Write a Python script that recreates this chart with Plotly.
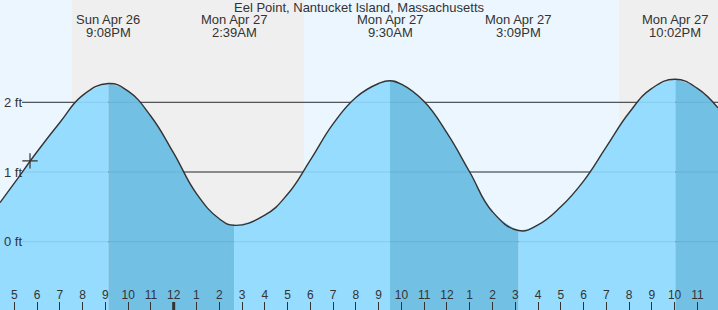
import plotly.graph_objects as go

# ---- data (hours since 00:00 Sun Apr 26) ----
x_start, x_end = 16.372, 47.905
curve_hours = [16.372, 17, 18, 19, 20, 21.133, 22, 23, 24, 25, 26, 26.65, 28, 29, 30,
               31, 32, 33, 33.5, 34, 35, 36, 37, 38, 39.15, 40, 41, 42, 43, 44, 45,
               46.033, 47, 47.905]
curve_heights = [0.56, 0.84, 1.29, 1.71, 2.10, 2.27, 2.16, 1.80, 1.27, 0.69, 0.33, 0.235,
                 0.38, 0.68, 1.17, 1.69, 2.07, 2.27, 2.31, 2.26, 2.01, 1.56, 1.00, 0.43,
                 0.16, 0.24, 0.50, 0.87, 1.36, 1.85, 2.20, 2.33, 2.20, 1.92]

extreme_hours = [21.133, 26.65, 33.5, 39.15, 46.033]
extreme_days = ["Sun Apr 26", "Mon Apr 27", "Mon Apr 27", "Mon Apr 27", "Mon Apr 27"]
extreme_times = ["9:08PM", "2:39AM", "9:30AM", "3:09PM", "10:02PM"]

night_spans = [(19.534, 29.725), (43.56, x_end)]

tick_hours = list(range(17, 49))
tick_labels = [str(h % 12 if h % 12 else 12) for h in tick_hours]
midnight_hour = 24

now_hour, now_height = 17.69, 1.16

grid_ft = [0, 1, 2]
grid_labels = ["0 ft", "1 ft", "2 ft"]

title = "Eel Point, Nantucket Island, Massachusetts"

# ---- style ----
DAY = "#ecf6ff"
NIGHT = "#efefef"
LIGHT = "#96dcfe"
DARK = "#73c0e5"
INK = "#333333"
FONT = "Liberation Sans"
SMOOTH = 1.3
y_lo, y_hi = -0.98, 3.468

fig = go.Figure()

# water fills: rising (light) and falling (dark) segments between extremes
bounds = [x_start] + extreme_hours + [x_end]
for i in range(len(bounds) - 1):
    a, b = bounds[i], bounds[i + 1]
    seg = [(h, v) for h, v in zip(curve_hours, curve_heights) if a - 1e-9 <= h <= b + 1e-9]
    sx = [p[0] for p in seg]
    sy = [p[1] for p in seg]
    rising = sy[-1] > sy[0]
    fig.add_trace(go.Scatter(x=[a, b], y=[y_lo - 1, y_lo - 1], mode="lines",
                             line=dict(width=0), hoverinfo="skip", showlegend=False))
    fig.add_trace(go.Scatter(x=sx, y=sy, mode="lines",
                             line=dict(width=0, shape="spline", smoothing=SMOOTH),
                             fill="tonexty", fillcolor=LIGHT if rising else DARK,
                             hoverinfo="skip", showlegend=False))

# tide curve
fig.add_trace(go.Scatter(x=curve_hours, y=curve_heights, mode="lines",
                         line=dict(color=INK, width=1.4, shape="spline", smoothing=SMOOTH),
                         hoverinfo="skip", showlegend=False))

# current time marker
fig.add_trace(go.Scatter(x=[now_hour], y=[now_height], mode="markers",
                         marker=dict(symbol="cross-thin", size=11,
                                     line=dict(color=INK, width=1.2)),
                         hoverinfo="skip", showlegend=False))

# bottom hour labels
fig.add_trace(go.Scatter(x=tick_hours, y=[-0.779] * len(tick_hours), mode="text",
                         text=tick_labels, textposition="middle center",
                         textfont=dict(family=FONT, size=12, color=INK),
                         cliponaxis=False, hoverinfo="skip", showlegend=False))

shapes = []
# day/night background
shapes.append(dict(type="rect", xref="x", yref="paper", x0=x_start, x1=x_end, y0=0, y1=1,
                   fillcolor=DAY, line=dict(width=0), layer="below"))
for a, b in night_spans:
    shapes.append(dict(type="rect", xref="x", yref="paper", x0=a, x1=b, y0=0, y1=1,
                       fillcolor=NIGHT, line=dict(width=0), layer="below"))
# grid lines
for g in grid_ft:
    shapes.append(dict(type="line", xref="paper", yref="y", x0=22 / 718, x1=1, y0=g, y1=g,
                       line=dict(color=INK, width=1), layer="below"))
    shapes.append(dict(type="line", xref="paper", yref="y", x0=22 / 718, x1=1, y0=g, y1=g,
                       line=dict(color="rgba(0,50,90,0.10)", width=1), layer="above"))
# midnight tick
shapes.append(dict(type="line", xref="x", yref="paper", x0=midnight_hour, x1=midnight_hour,
                   y0=0, y1=8 / 310, line=dict(color=INK, width=3)))

annotations = [dict(text=title, xref="paper", yref="paper", x=0.5, y=1 - 8 / 310,
                    xanchor="center", yanchor="middle", showarrow=False,
                    font=dict(family=FONT, size=13, color=INK))]
for h, d, t in zip(extreme_hours, extreme_days, extreme_times):
    annotations.append(dict(text=d, xref="x", yref="paper", x=h, y=1 - 20 / 310,
                            xanchor="center", yanchor="middle", showarrow=False,
                            font=dict(family=FONT, size=13, color=INK)))
    annotations.append(dict(text=t, xref="x", yref="paper", x=h, y=1 - 32 / 310,
                            xanchor="center", yanchor="middle", showarrow=False,
                            font=dict(family=FONT, size=13, color=INK)))
for g, lab in zip(grid_ft, grid_labels):
    annotations.append(dict(text=lab, xref="paper", yref="y", x=2 / 718, y=g,
                            xanchor="left", yanchor="middle", showarrow=False,
                            font=dict(family=FONT, size=13, color=INK)))

fig.update_layout(
    width=718, height=310, margin=dict(l=0, r=0, t=0, b=0, pad=0),
    paper_bgcolor=DAY, plot_bgcolor=DAY,
    shapes=shapes, annotations=annotations,
    xaxis=dict(range=[x_start, x_end], showgrid=False, zeroline=False, showline=False,
               tickvals=tick_hours, ticks="inside", ticklen=8, tickwidth=1, tickcolor=INK,
               showticklabels=False, fixedrange=True),
    yaxis=dict(range=[y_lo, y_hi], showgrid=False, zeroline=False, showline=False,
               showticklabels=False, fixedrange=True),
    showlegend=False,
)

fig.write_html("out.html", config={"displayModeBar": False})
